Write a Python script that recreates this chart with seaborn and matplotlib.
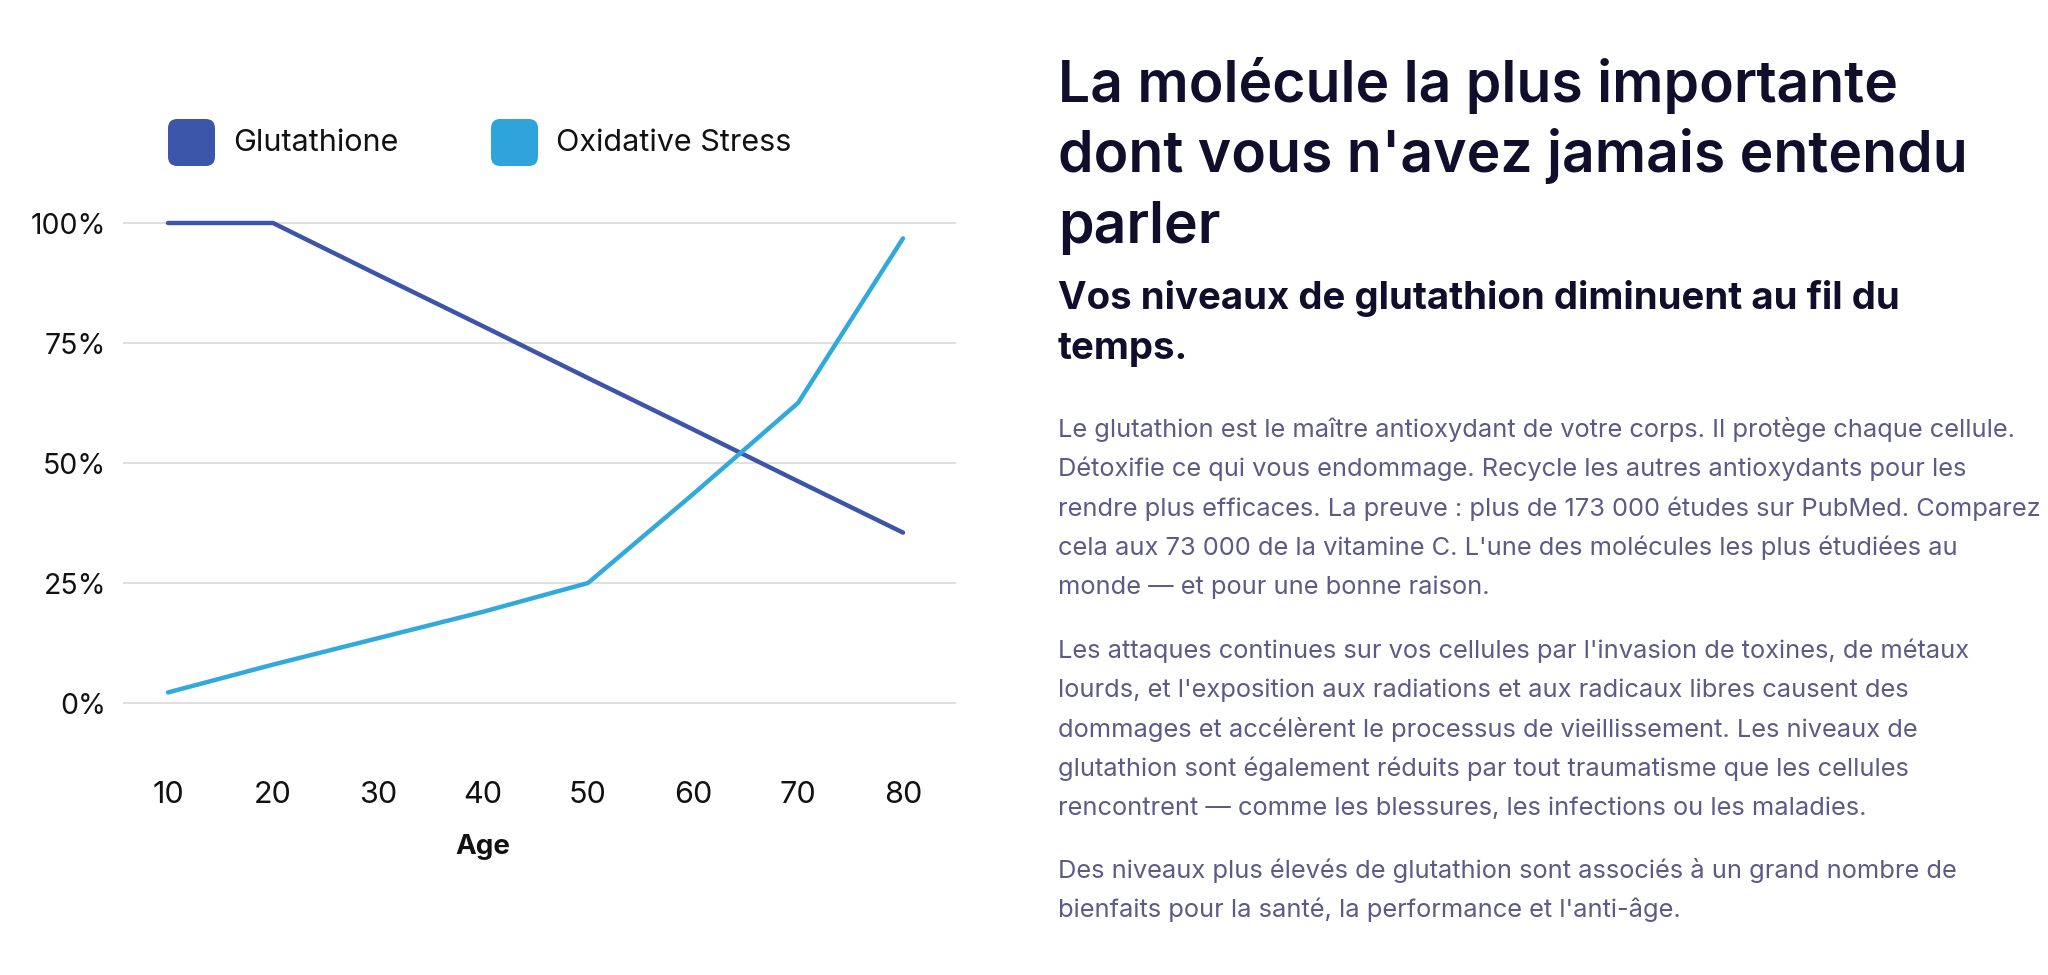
import matplotlib
matplotlib.use('Agg')
import matplotlib.pyplot as plt
import pandas as pd
import seaborn as sns
from matplotlib.patches import FancyBboxPatch

# data
ages = [10, 20, 30, 40, 50, 60, 70, 80]
glutathione = [100, 100, 89.2, 78.5, 67.7, 57, 46.2, 35.5]
oxidative_stress = [2.2, 8, 13.5, 19, 25, 43.5, 62.5, 96.8]
series_names = ['Glutathione', 'Oxidative Stress']
series_colors = ['#3d55a8', '#32a9dd']
legend_colors = ['#3b56a9', '#2ea4da']
y_ticks = [0, 25, 50, 75, 100]
y_labels = ['0%', '25%', '50%', '75%', '100%']

title_lines = ["La molécule la plus importante",
               "dont vous n'avez jamais entendu",
               "parler"]
subtitle_lines = ["Vos niveaux de glutathion diminuent au fil du",
                  "temps."]
paragraphs = [
    ["Le glutathion est le maître antioxydant de votre corps. Il protège chaque cellule.",
     "Détoxifie ce qui vous endommage. Recycle les autres antioxydants pour les",
     "rendre plus efficaces. La preuve : plus de 173 000 études sur PubMed. Comparez",
     "cela aux 73 000 de la vitamine C. L'une des molécules les plus étudiées au",
     "monde — et pour une bonne raison."],
    ["Les attaques continues sur vos cellules par l'invasion de toxines, de métaux",
     "lourds, et l'exposition aux radiations et aux radicaux libres causent des",
     "dommages et accélèrent le processus de vieillissement. Les niveaux de",
     "glutathion sont également réduits par tout traumatisme que les cellules",
     "rencontrent — comme les blessures, les infections ou les maladies."],
    ["Des niveaux plus élevés de glutathion sont associés à un grand nombre de",
     "bienfaits pour la santé, la performance et l'anti-âge."],
]

W, H = 2048, 975
sns.set_theme(style='white')
plt.rcParams['font.family'] = ['Inter', 'DejaVu Sans']

fig = plt.figure(figsize=(W / 100, H / 100), dpi=100)
fig.patch.set_facecolor('white')


def fx(px):
    return px / W


def fy(py):
    return 1 - py / H


df = pd.DataFrame({
    'age': ages * 2,
    'value': glutathione + oxidative_stress,
    'series': [series_names[0]] * len(ages) + [series_names[1]] * len(ages),
})

ax = fig.add_axes([fx(123), fy(727), fx(956) - fx(123), fy(199) - fy(727)])
sns.lineplot(data=df, x='age', y='value', hue='series',
             palette=dict(zip(series_names, series_colors)),
             linewidth=3.2, legend=False, ax=ax)
ax.set_xlim(10 - 45 / 10.5, 80 + 53 / 10.5)
ax.set_ylim(-5, 105)
ax.set_xticks(ages)
ax.set_yticks(y_ticks)
ax.set_yticklabels(y_labels)
ax.yaxis.grid(True, color='#dddddd', linewidth=1.3)
ax.xaxis.grid(False)
ax.set_axisbelow(True)
sns.despine(ax=ax, left=True, bottom=True)
ax.tick_params(axis='both', length=0, colors='#111111')
ax.tick_params(axis='y', pad=12, labelsize=20.5)
ax.tick_params(axis='x', pad=39, labelsize=22)
ax.set_xlabel('')
ax.set_ylabel('')
fig.text(fx(483), fy(847), 'Age', ha='center', va='center',
         fontsize=20, fontweight='bold', color='#111111')

# legend: rounded squares + labels
for x0, name, col in zip([168, 491], series_names, legend_colors):
    fig.add_artist(FancyBboxPatch((fx(x0), fy(166)), fx(47), 47 / H,
                                  boxstyle='round,pad=0,rounding_size=0.0045',
                                  mutation_aspect=W / H, transform=fig.transFigure,
                                  facecolor=col, edgecolor='none'))
    fig.text(fx(x0 + 65), fy(143), name, ha='left', va='center',
             fontsize=22, color='#111111')

renderer = fig.canvas.get_renderer()


def fit_size(text, weight, target_px, base=20):
    t = fig.text(0, 0, text, fontsize=base, fontweight=weight)
    w = t.get_window_extent(renderer).width
    t.remove()
    return base * target_px / w


text_x = fx(1058)
title_size = fit_size(title_lines[1], 'semibold', 910)
for line, yb in zip(title_lines, [102, 172, 243]):
    fig.text(text_x, fy(yb), line, ha='left', va='baseline',
             fontsize=title_size, fontweight='semibold', color='#110e2c')

sub_size = fit_size(subtitle_lines[0], 'bold', 844)
for line, yb in zip(subtitle_lines, [309, 359]):
    fig.text(text_x, fy(yb), line, ha='left', va='baseline',
             fontsize=sub_size, fontweight='bold', color='#110e2c')

body_size = fit_size(paragraphs[0][0], 'normal', 958)
for para, y_start in zip(paragraphs, [437, 658, 878]):
    for i, line in enumerate(para):
        fig.text(text_x, fy(y_start + i * 39.3), line, ha='left', va='baseline',
                 fontsize=body_size, color='#5d5b86')

fig.savefig('out.png', dpi=100, facecolor='white')
